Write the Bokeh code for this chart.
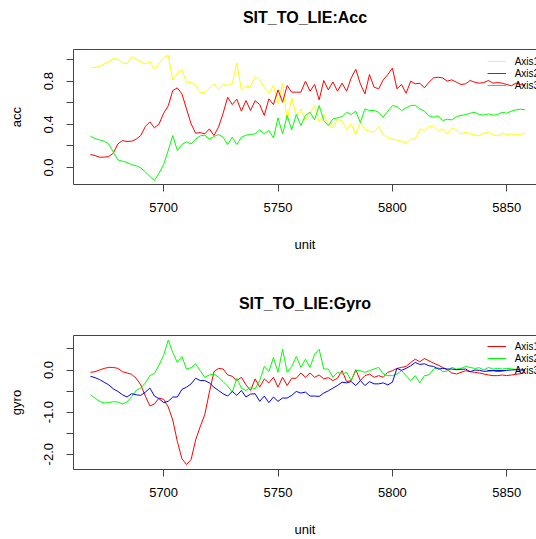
from bokeh.plotting import figure
from bokeh.models import Range1d, FixedTicker, PrintfTickFormatter, LinearAxis, Legend, LegendItem
from bokeh.layouts import column
from bokeh.embed import file_html
from bokeh.resources import INLINE

FONT = "Liberation Sans"

units = list(range(5668, 5859, 2))

acc_axis1 = [0.93, 0.923, 0.94, 0.96, 0.98, 1.01, 1.003, 0.97, 0.96, 1.028,
             1.003, 0.98, 0.96, 0.98, 0.91, 0.966, 1.016, 1.04, 0.81, 0.874,
             0.905, 0.79, 0.79, 0.76, 0.698, 0.695, 0.73, 0.775, 0.72, 0.77,
             0.76, 0.78, 0.966, 0.72, 0.75, 0.75, 0.84, 0.81, 0.744, 0.69,
             0.76, 0.59, 0.78, 0.44, 0.645, 0.48,
             0.543, 0.435, 0.51, 0.574, 0.42, 0.497, 0.389, 0.367, 0.45, 0.43,
             0.358, 0.404, 0.306, 0.42, 0.349, 0.337, 0.327, 0.38, 0.303, 0.275,
             0.262, 0.256, 0.244, 0.226, 0.263, 0.263, 0.358, 0.343, 0.38, 0.386,
             0.337, 0.358, 0.312, 0.367, 0.349, 0.312, 0.327, 0.312, 0.3, 0.297,
             0.318, 0.33, 0.303, 0.293, 0.318, 0.306, 0.312, 0.3, 0.306, 0.318]
acc_axis2 = [0.121, 0.111, 0.096, 0.096, 0.102, 0.133, 0.219, 0.25, 0.241, 0.244,
             0.263, 0.296, 0.38, 0.423, 0.367, 0.404, 0.503, 0.571, 0.713, 0.738,
             0.682, 0.543, 0.404, 0.318, 0.324, 0.312, 0.358, 0.296, 0.374, 0.503,
             0.651, 0.583, 0.633, 0.522, 0.62, 0.528, 0.62, 0.583, 0.482, 0.636,
             0.583, 0.719, 0.605, 0.759, 0.698, 0.698,
             0.698, 0.8, 0.707, 0.769, 0.627, 0.806, 0.719, 0.793, 0.707, 0.781,
             0.707, 0.83, 0.91, 0.775, 0.682, 0.861, 0.744, 0.729, 0.812, 0.861,
             0.92, 0.729, 0.769, 0.688, 0.8, 0.775, 0.781, 0.738, 0.79, 0.83,
             0.836, 0.83, 0.8, 0.812, 0.79, 0.769, 0.775, 0.806, 0.79, 0.781,
             0.787, 0.806, 0.781, 0.787, 0.781, 0.769, 0.757, 0.781, 0.769, 0.759]
acc_axis3 = [0.29, 0.269, 0.256, 0.244, 0.219, 0.142, 0.071, 0.059, 0.047, 0.028,
             0.016, -0.003, -0.04, -0.083, -0.12, -0.052, 0.028, 0.158, 0.297, 0.158,
             0.213, 0.238, 0.219, 0.263, 0.293, 0.3, 0.263, 0.287, 0.306, 0.281,
             0.213, 0.281, 0.213, 0.281, 0.3, 0.306, 0.312, 0.349, 0.312, 0.343,
             0.275, 0.46, 0.312, 0.482, 0.349, 0.491,
             0.389, 0.482, 0.512, 0.441, 0.574, 0.435, 0.389, 0.451, 0.46, 0.472,
             0.512, 0.491, 0.522, 0.417, 0.543, 0.528, 0.528, 0.512, 0.466, 0.522,
             0.574, 0.565, 0.528, 0.552, 0.574, 0.577, 0.543, 0.522, 0.479, 0.466,
             0.479, 0.435, 0.448, 0.441, 0.472, 0.482, 0.491, 0.503, 0.512, 0.491,
             0.485, 0.497, 0.485, 0.491, 0.512, 0.503, 0.522, 0.534, 0.54, 0.534]

gyro_axis1 = [-0.055, -0.04, 0.0, 0.038, 0.062, 0.062, 0.038, -0.04, -0.071, -0.102,
              -0.196, -0.353, -0.619, -0.854, -0.807, -0.666, -0.697, -0.877, -1.19, -1.699,
              -2.106, -2.247, -2.129, -1.66, -1.347, -1.057, -0.525, -0.04, 0.038, 0.023,
              -0.118, -0.149, -0.251, -0.173, -0.353, -0.486, -0.212, -0.408, -0.212, -0.306,
              -0.173, -0.408, -0.173, -0.369, -0.196, -0.196,
              -0.071, -0.173, -0.071, -0.173, -0.118, -0.212, -0.181, -0.251, -0.196, -0.016,
              -0.275, -0.251, 0.007, -0.251, -0.134, -0.095, -0.173, -0.134, -0.173, -0.055,
              -0.016, 0.038, 0.062, 0.085, 0.179, 0.257, 0.195, 0.273, 0.218, 0.164,
              0.117, 0.062, 0.007, -0.071, -0.095, -0.055, -0.016, -0.04, -0.055, -0.071,
              -0.095, -0.118, -0.134, -0.134, -0.118, -0.134, -0.118, -0.102, -0.087, -0.055]
gyro_axis2 = [-0.588, -0.666, -0.744, -0.783, -0.775, -0.752, -0.76, -0.807, -0.76, -0.635,
              -0.486, -0.431, -0.306, -0.134, -0.079, 0.117, 0.351, 0.71, 0.414, 0.179,
              0.32, 0.023, 0.054, 0.148, -0.016, -0.173, -0.118, -0.095, -0.173, -0.275,
              -0.384, -0.525, -0.196, -0.431, -0.486, -0.408, -0.447, -0.251, 0.085, -0.04,
              0.297, -0.055, 0.492, -0.055, 0.085, 0.32,
              0.062, 0.257, 0.062, 0.375, 0.492, 0.023, 0.023, -0.173, -0.055, -0.095,
              -0.055, -0.251, -0.016, -0.016, -0.055, -0.016, 0.023, 0.062, -0.095, -0.134,
              -0.134, -0.095, -0.016, -0.134, -0.251, -0.134, -0.306, -0.134, -0.118, 0.023,
              0.054, -0.04, -0.024, 0.062, 0.023, 0.038, 0.085, 0.062, 0.038, 0.054,
              0.0, 0.062, 0.023, 0.038, 0.023, 0.038, 0.03, 0.015, 0.007, 0.007]
gyro_axis3 = [-0.149, -0.181, -0.228, -0.29, -0.353, -0.447, -0.509, -0.588, -0.642, -0.564,
              -0.588, -0.603, -0.525, -0.43, -0.619, -0.682, -0.775, -0.744, -0.642, -0.642,
              -0.462, -0.408, -0.329, -0.196, -0.251, -0.251, -0.306, -0.408, -0.486, -0.564,
              -0.619, -0.509, -0.603, -0.486, -0.642, -0.572, -0.564, -0.744, -0.619, -0.775,
              -0.642, -0.744, -0.666, -0.666, -0.603, -0.509,
              -0.548, -0.525, -0.619, -0.619, -0.627, -0.548, -0.494, -0.431, -0.369, -0.29,
              -0.306, -0.275, -0.369, -0.251, -0.369, -0.275, -0.329, -0.329, -0.306, -0.353,
              -0.29, 0.038, -0.008, 0.038, 0.101, 0.179, 0.132, 0.148, 0.101, 0.085,
              0.023, 0.038, 0.023, 0.023, 0.007, 0.015, 0.023, -0.04, 0.0, -0.008,
              -0.032, -0.024, -0.016, -0.032, -0.024, -0.008, 0.0, 0.007, 0.0, -0.008]

x_ticks = [5700, 5750, 5800, 5850]
legend_labels = ["Axis1", "Axis2", "Axis3"]
acc_colors = ["#FFFF00", "#FF0000", "#00FF00"]
gyro_colors = ["#FF0000", "#00FF00", "#0000FF"]
AX = "#444444"


def make_panel(title, ylabel, series, colors, yr, yt, ymt, height, mb_bottom):
    p = figure(width=536, height=height, output_backend="svg", toolbar_location=None,
               x_range=Range1d(5660.6, 5863.0), y_range=Range1d(*yr),
               min_border_left=73, min_border_right=0, min_border_top=49,
               min_border_bottom=mb_bottom)
    p.background_fill_color = "white"
    p.border_fill_color = "white"
    p.outline_line_color = None
    p.grid.visible = False

    xa = p.xaxis[0]
    xa.ticker = FixedTicker(ticks=x_ticks)
    xa.axis_label = "unit"
    ya = p.yaxis[0]
    ya.ticker = FixedTicker(ticks=yt, minor_ticks=ymt)
    ya.formatter = PrintfTickFormatter(format="%.1f")
    ya.axis_label = ylabel
    ya.major_label_orientation = "vertical"
    for a in (xa, ya):
        a.axis_line_color = AX
        a.major_tick_line_color = AX
        a.minor_tick_line_color = AX
        a.major_tick_out = 7
        a.major_tick_in = 0
        a.minor_tick_out = 7
        a.minor_tick_in = 0
        a.major_label_text_font = FONT
        a.major_label_text_font_size = "13px"
        a.major_label_text_color = "black"
        a.axis_label_text_font = FONT
        a.axis_label_text_font_size = "13px"
        a.axis_label_text_font_style = "normal"
        a.axis_label_text_color = "black"
    xa.minor_tick_line_color = None
    xa.major_label_standoff = 11
    xa.axis_label_standoff = 22
    ya.major_label_standoff = 13
    ya.axis_label_standoff = 18

    # top side of the box, carrying the panel title
    top = LinearAxis(ticker=FixedTicker(ticks=[]), axis_line_color=AX,
                     major_tick_line_color=None, minor_tick_line_color=None,
                     major_tick_out=0, major_tick_in=0,
                     major_label_text_color=None, major_label_standoff=0,
                     axis_label=title, axis_label_standoff=24,
                     axis_label_text_font=FONT, axis_label_text_font_size="16px",
                     axis_label_text_font_style="bold", axis_label_text_color="black")
    p.add_layout(top, "above")

    items = []
    for s, c, lab in zip(series, colors, legend_labels):
        r = p.line(units, s, line_color=c, line_width=1)
        items.append(LegendItem(label=lab, renderers=[r]))

    lg = Legend(items=items, location=(413.7, 92.7), padding=0, margin=0, spacing=0,
                glyph_width=19, glyph_height=12, label_height=12, label_standoff=9,
                label_text_font=FONT, label_text_font_size="10px",
                label_text_color="black", border_line_color=None,
                background_fill_alpha=0)
    p.add_layout(lg)
    return p


p1 = make_panel("SIT_TO_LIE:Acc", "acc", [acc_axis1, acc_axis2, acc_axis3], acc_colors,
                (-0.157, 1.093), [0.0, 0.4, 0.8], [0.2, 0.6, 1.0], 286, 102)
p2 = make_panel("SIT_TO_LIE:Gyro", "gyro", [gyro_axis1, gyro_axis2, gyro_axis3], gyro_colors,
                (-2.364, 0.82), [-2.0, -1.0, 0.0], [-1.5, -0.5, 0.5], 253, 69)

layout = column(p1, p2, spacing=0)
open("out.html", "w").write(file_html(layout, INLINE))
